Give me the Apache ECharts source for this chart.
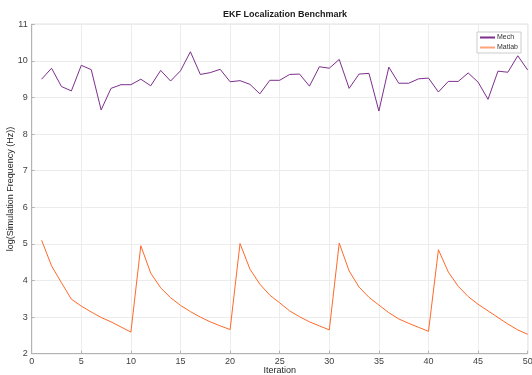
<!DOCTYPE html>
<html>
<head>
<meta charset="utf-8">
<script src="https://cdn.jsdelivr.net/npm/echarts@6/dist/echarts.min.js"></script>
<style>html,body{margin:0;padding:0;background:#fff;}#c{width:532px;height:375px;}</style>
</head>
<body>
<div id="c"></div>
<script>
const iterations = Array.from({length: 50}, (_, i) => i + 1);
const mech = [9.50, 9.80, 9.30, 9.18, 9.88, 9.76, 8.66, 9.25, 9.35, 9.35,
              9.50, 9.32, 9.74, 9.45, 9.73, 10.25, 9.63, 9.68, 9.77, 9.43,
              9.46, 9.36, 9.10, 9.47, 9.47, 9.63, 9.64, 9.31, 9.84, 9.80,
              10.04, 9.25, 9.64, 9.66, 8.63, 9.83, 9.39, 9.39, 9.51, 9.53,
              9.15, 9.44, 9.44, 9.67, 9.42, 8.95, 9.72, 9.69, 10.14, 9.75];
const matlab = [5.10, 4.40, 3.94, 3.49, 3.30, 3.14, 2.99, 2.87, 2.73, 2.59,
                4.95, 4.20, 3.80, 3.53, 3.32, 3.15, 3.00, 2.87, 2.76, 2.66,
                5.01, 4.31, 3.90, 3.60, 3.39, 3.17, 3.01, 2.87, 2.76, 2.65,
                5.02, 4.26, 3.82, 3.54, 3.33, 3.12, 2.95, 2.83, 2.72, 2.61,
                4.84, 4.23, 3.84, 3.56, 3.35, 3.17, 2.99, 2.81, 2.65, 2.53];
const seriesNames = ['Mech', 'Matlab'];
const titleText = 'EKF Localization Benchmark';
const xLabel = 'Iteration';
const yLabel = 'log(Simulation Frequency (Hz))';

const chart = echarts.init(document.getElementById('c'), null, {renderer: 'canvas'});
const fontFam = '"Liberation Sans", Arial, sans-serif';
const axisCommon = {
  axisLine: {show: true, lineStyle: {color: '#b3b3b3', width: 1}},
  axisTick: {show: true, inside: true, length: 3, lineStyle: {color: '#b3b3b3'}},
  axisLabel: {color: '#404040', fontSize: 9, fontFamily: fontFam},
  splitLine: {show: true, lineStyle: {color: '#ececec', width: 1}},
  nameTextStyle: {color: '#262626', fontSize: 9, fontFamily: fontFam},
  nameMoveOverlap: false
};
chart.setOption({
  animation: false,
  backgroundColor: '#ffffff',
  title: {
    text: titleText, left: 280, top: 5, textAlign: 'center',
    textStyle: {fontSize: 9, fontWeight: 'bold', color: '#1a1a1a', fontFamily: fontFam}
  },
  legend: {
    data: [
      {name: seriesNames[0], itemStyle: {color: '#7e2f8e'}},
      {name: seriesNames[1], itemStyle: {color: '#ffa37a'}}
    ],
    orient: 'vertical', right: 11, top: 32,
    itemWidth: 15, itemHeight: 2, itemGap: 3,
    backgroundColor: '#ffffff', borderColor: '#cccccc', borderWidth: 1,
    padding: [2, 3, 2, 3],
    icon: 'rect',
    textStyle: {fontSize: 7, color: '#333', fontFamily: fontFam, padding: [0, 0, 0, -3]}
  },
  grid: {left: 31.7, right: 4.3, top: 24.3, bottom: 21.3, show: true, borderColor: '#b3b3b3', borderWidth: 1,
         containLabel: false, outerBoundsMode: 'none'},
  xAxis: Object.assign({}, axisCommon, {
    type: 'value', min: 0, max: 50, interval: 5,
    name: xLabel, nameLocation: 'middle', nameGap: 12,
    axisLabel: Object.assign({}, axisCommon.axisLabel, {margin: 3})
  }),
  yAxis: Object.assign({}, axisCommon, {
    type: 'value', min: 2, max: 11, interval: 1,
    name: yLabel, nameLocation: 'middle', nameGap: 17,
    axisLabel: Object.assign({}, axisCommon.axisLabel, {margin: 4})
  }),
  series: [
    {name: seriesNames[0], type: 'line', data: iterations.map((x, i) => [x, mech[i]]),
     showSymbol: false, symbol: 'none', lineStyle: {color: '#7e2f8e', width: 1}, itemStyle: {color: '#7e2f8e'}},
    {name: seriesNames[1], type: 'line', data: iterations.map((x, i) => [x, matlab[i]]),
     showSymbol: false, symbol: 'none', lineStyle: {color: '#ff6929', width: 1}, itemStyle: {color: '#ffa37a'}}
  ]
});
</script>
</body>
</html>
